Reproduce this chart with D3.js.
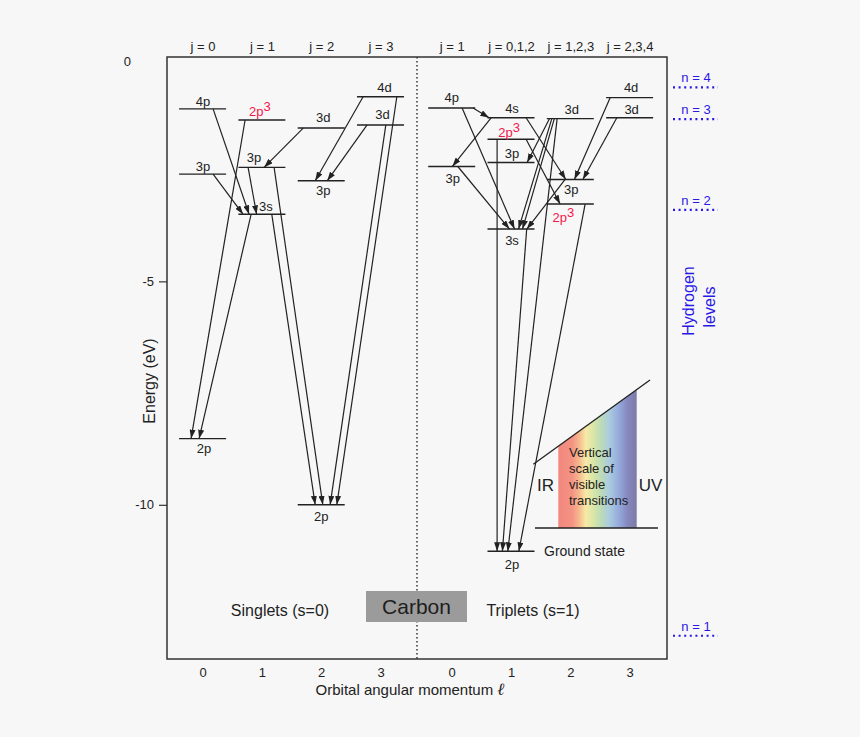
<!DOCTYPE html>
<html>
<head>
<meta charset="utf-8">
<script src="https://cdn.jsdelivr.net/npm/d3@7"></script>
<style>
  html, body { margin: 0; padding: 0; background: #f7f7f7; }
  svg { display: block; font-family: "Liberation Sans", Arial, Helvetica, sans-serif; }
</style>
</head>
<body>
<svg id="chart" width="860" height="737"></svg>
<script>
// ---------------- DATA ----------------
const columnPos   = [0, 1, 2, 3, 4.2, 5.2, 6.2, 7.2];
const headerLabels = ["j = 0", "j = 1", "j = 2", "j = 3", "j = 1", "j = 0,1,2", "j = 1,2,3", "j = 2,3,4"];
const tickLabels  = ["0", "1", "2", "3", "0", "1", "2", "3"];
const energyTicks = [0, -5, -10];

// singlet levels (column = L)
const singletIds   = ["s4p0", "s3p0", "s2p0", "s2p31", "s3p1", "s3s1", "s3d2", "s3p2", "s2p2", "s4d3", "s3d3"];
const singletTerms = ["4p", "3p", "2p", "2p", "3p", "3s", "3d", "3p", "2p", "4d", "3d"];
const singletSup   = ["", "", "", "3", "", "", "", "", "", "", ""];
const singletL     = [0, 0, 0, 1, 1, 1, 2, 2, 2, 3, 3];
const singletE     = [-1.14, -2.60, -8.52, -1.39, -2.45, -3.50, -1.57, -2.75, -10.0, -0.87, -1.50];

// triplet levels (column = L + 4)
const tripletIds   = ["t4p0", "t3p0", "t4s1", "t2p31", "t3p1", "t3s1", "t2p1", "t3d2", "t3p2", "t2p32", "t4d3", "t3d3"];
const tripletTerms = ["4p", "3p", "4s", "2p", "3p", "3s", "2p", "3d", "3p", "2p", "4d", "3d"];
const tripletSup   = ["", "", "", "3", "", "", "", "", "", "3", "", ""];
const tripletL     = [0, 0, 1, 1, 1, 1, 1, 2, 2, 2, 3, 3];
const tripletE     = [-1.12, -2.43, -1.34, -1.82, -2.34, -3.83, -11.04, -1.36, -2.72, -3.27, -0.89, -1.34];

// transitions: [upper level, lower level]
const transitions = [
  ["s4p0", "s3s1"], ["s3p0", "s3s1"], ["s3p1", "s3s1"], ["s3d2", "s3p1"],
  ["s4d3", "s3p2"], ["s3d3", "s3p2"], ["s2p31", "s2p0"], ["s3s1", "s2p0"],
  ["s3s1", "s2p2"], ["s3p1", "s2p2"], ["s3d3", "s2p2"], ["s4d3", "s2p2"],
  ["t4p0", "t4s1"], ["t4p0", "t3s1"], ["t3p0", "t3s1"], ["t3d2", "t3s1"],
  ["t3d2", "t3s1"], ["t3p2", "t3s1"], ["t4s1", "t3p0"], ["t4s1", "t3p2"],
  ["t2p31", "t2p32"], ["t3d2", "t3p1"], ["t4d3", "t3p2"], ["t3d3", "t3p2"],
  ["t2p31", "t2p1"], ["t3s1", "t2p1"], ["t3d2", "t2p1"], ["t2p32", "t2p1"]
];

// hydrogen reference levels
const hydrogenN = ["n = 4", "n = 3", "n = 2", "n = 1"];
const hydrogenE = [-0.66, -1.37, -3.40, -12.93];

// ---------------- LAYOUT (positions / styles) ----------------
const transitionOffsets = [
  [10.5, -12.8], [10.5, -18.8], [-13.8, -5.3], [-18, 2.2],
  [-17.4, -6], [-13.4, 6], [-16.8, -11.5], [-10.8, -3.5],
  [9.9, -6], [12.2, 1.6], [5.3, 8.9], [16.3, 15.6],
  [21.4, -21.9], [10.4, 3.5], [6.1, -1.5], [-18.5, 7.5],
  [-16, 11.5], [-5.2, 15.8], [-19.9, 0.7], [15.1, -4.5],
  [15.1, -10.2], [-20.9, 16.1], [-19.5, 4.1], [-12.8, 12.5],
  [-13.9, -13.9], [15.7, -8.6], [-13.2, -3.2], [14.8, 7.8]
];
const labelPlace = {
  s4p0: [0.5, -3], s3p0: [0.5, -3], s2p0: [1.5, 14.5], s2p31: [-2, -4.5], s3p1: [-8, -5],
  s3s1: [4, -3], s3d2: [2, -6.5], s3p2: [2, 14.5], s2p2: [0, 16.5], s4d3: [4, -5], s3d3: [2, -5.5],
  t4p0: [0, -5.5], t3p0: [1, 17], t4s1: [1, -4.5], t2p31: [-2, -2.3], t3p1: [1, -4], t3s1: [1, 15.5],
  t2p1: [1, 18], t3d2: [1.5, -4.5], t3p2: [1, 15], t2p32: [-7, 18], t4d3: [1.5, -5.5], t3d3: [2, -3.5]
};

const W = 860, H = 737;
const plot = { left: 167, right: 667, top: 57, bottom: 659 };
const INK = "#222", RED = "#f2164a", BLUE = "#2a18e6";

const x = d3.scaleLinear().domain([-0.6, 7.83]).range([plot.left, plot.right]);
const y = d3.scaleLinear().domain([0.02, -13.45]).range([plot.top, plot.bottom]);

const svg = d3.select("#chart");
svg.append("rect").attr("width", W).attr("height", H).attr("fill", "#f7f7f7");

const defs = svg.append("defs");
defs.append("marker").attr("id", "arrow")
  .attr("viewBox", "0 -3 9 6").attr("refX", 9).attr("refY", 0)
  .attr("markerWidth", 9).attr("markerHeight", 6)
  .attr("markerUnits", "userSpaceOnUse").attr("orient", "auto")
  .append("path").attr("d", "M0,-3L9,0L0,3Z").attr("fill", INK);

const grad = defs.append("linearGradient").attr("id", "spec").attr("x1", "0").attr("x2", "1").attr("y1", "0").attr("y2", "0");
[[0, "#f2877e"], [0.18, "#f49484"], [0.27, "#f6bb8e"], [0.35, "#f7e9a6"], [0.45, "#d8e6a8"],
 [0.55, "#bcdab8"], [0.65, "#abcbe0"], [0.78, "#94a8da"], [0.88, "#8689bf"], [1, "#7d7aa6"]]
  .forEach(([o, c]) => grad.append("stop").attr("offset", o).attr("stop-color", c));

const levels = [];
singletIds.forEach((id, i) => levels.push({ id, term: singletTerms[i], sup: singletSup[i], col: singletL[i], E: singletE[i] }));
tripletIds.forEach((id, i) => levels.push({ id, term: tripletTerms[i], sup: tripletSup[i], col: tripletL[i] + 4, E: tripletE[i] }));
const byId = Object.fromEntries(levels.map(d => [d.id, d]));
const cx = d => x(columnPos[d.col]);
const HALF = 23.5;

// frame
svg.append("rect").attr("x", plot.left).attr("y", plot.top)
  .attr("width", plot.right - plot.left).attr("height", plot.bottom - plot.top)
  .attr("fill", "none").attr("stroke", "#333").attr("stroke-width", 1.5);

// separator
svg.append("line").attr("x1", x(3.615)).attr("x2", x(3.615))
  .attr("y1", plot.top).attr("y2", plot.bottom)
  .attr("stroke", "#333").attr("stroke-width", 1.5).attr("stroke-dasharray", "1.5,2.5");

// y axis
const yAxis = svg.append("g").attr("transform", `translate(${plot.left},0)`)
  .call(d3.axisLeft(y).tickValues(energyTicks).tickSize(8).tickPadding(5).tickFormat(d => String(d)));
yAxis.select(".domain").remove();
yAxis.selectAll("line").attr("stroke", "#333").attr("stroke-width", 1.2);
yAxis.selectAll("text").attr("font-size", 13).attr("fill", INK).attr("font-family", "Liberation Sans, Arial, sans-serif");
const zeroTick = yAxis.selectAll(".tick").filter(d => d === 0);
zeroTick.select("line").remove();
zeroTick.select("text").attr("x", -36).attr("dy", "0.55em");

svg.append("text").attr("transform", `translate(155,381) rotate(-90)`)
  .attr("text-anchor", "middle").attr("font-size", 16).attr("fill", INK).text("Energy (eV)");

// x axis
const xAxis = svg.append("g").attr("transform", `translate(0,${plot.bottom})`)
  .call(d3.axisBottom(x).tickValues(columnPos).tickSize(0).tickPadding(9).tickFormat((d, i) => tickLabels[i]));
xAxis.select(".domain").remove();
xAxis.selectAll("text").attr("font-size", 13).attr("fill", INK).attr("font-family", "Liberation Sans, Arial, sans-serif");

svg.append("text").attr("x", 410).attr("y", 695).attr("text-anchor", "middle")
  .attr("font-size", 15).attr("fill", INK)
  .text("Orbital angular momentum ")
  .append("tspan").attr("font-family", "DejaVu Serif, serif").attr("font-style", "italic").attr("font-size", 17).text("ℓ");

// header j labels
const topAxis = svg.append("g").attr("transform", `translate(0,${plot.top})`)
  .call(d3.axisTop(x).tickValues(columnPos).tickSize(0).tickPadding(6).tickFormat((d, i) => headerLabels[i]));
topAxis.select(".domain").remove();
topAxis.selectAll("text").attr("font-size", 13).attr("fill", INK).attr("font-family", "Liberation Sans, Arial, sans-serif");

// level lines
svg.append("g").selectAll("line").data(levels).join("line")
  .attr("x1", d => cx(d) - HALF).attr("x2", d => cx(d) + HALF)
  .attr("y1", d => y(d.E)).attr("y2", d => y(d.E))
  .attr("stroke", INK).attr("stroke-width", 1.4);

// transitions
svg.append("g").selectAll("line").data(transitions).join("line")
  .attr("x1", (d, i) => cx(byId[d[0]]) + transitionOffsets[i][0])
  .attr("y1", d => y(byId[d[0]].E))
  .attr("x2", (d, i) => cx(byId[d[1]]) + transitionOffsets[i][1])
  .attr("y2", d => y(byId[d[1]].E))
  .attr("stroke", INK).attr("stroke-width", 1.2).attr("marker-end", "url(#arrow)");

// level labels
const lab = svg.append("g").selectAll("text").data(levels).join("text")
  .attr("x", d => cx(d) + labelPlace[d.id][0])
  .attr("y", d => y(d.E) + labelPlace[d.id][1])
  .attr("text-anchor", "middle").attr("font-size", 13)
  .attr("fill", d => d.sup ? RED : INK);
lab.append("tspan").text(d => d.term);
lab.filter(d => d.sup).append("tspan").attr("dy", -5).attr("font-size", 13).text(d => d.sup);

svg.append("text").attr("x", 544).attr("y", y(byId.t2p1.E) + 5).attr("font-size", 14).attr("fill", INK).text("Ground state");

// Carbon box + group labels
svg.append("rect").attr("x", 366).attr("y", 591).attr("width", 101).attr("height", 31).attr("fill", "#9b9b9b");
svg.append("text").attr("x", 416.5).attr("y", 613.5).attr("text-anchor", "middle").attr("font-size", 21).attr("fill", "#1e1e1e").text("Carbon");
svg.append("text").attr("x", 280).attr("y", 616).attr("text-anchor", "middle").attr("font-size", 16).attr("fill", INK).text("Singlets (s=0)");
svg.append("text").attr("x", 533).attr("y", 616).attr("text-anchor", "middle").attr("font-size", 16).attr("fill", INK).text("Triplets (s=1)");

// spectrum inset
const slope = (380 - 464.3) / (650 - 533.3);
const ys = xx => 464.3 + slope * (xx - 533.3);
svg.append("polygon")
  .attr("points", [[558.3, 528], [558.3, ys(558.3)], [636.7, ys(636.7)], [636.7, 528]].map(p => p.join(",")).join(" "))
  .attr("fill", "url(#spec)");
svg.append("line").attr("x1", 533.3).attr("y1", 464.3).attr("x2", 650).attr("y2", 380).attr("stroke", INK).attr("stroke-width", 1.3);
svg.append("line").attr("x1", 535).attr("y1", 528).attr("x2", 658).attr("y2", 528).attr("stroke", INK).attr("stroke-width", 1.3);
svg.append("text").attr("x", 545.5).attr("y", 491).attr("text-anchor", "middle").attr("font-size", 17).attr("fill", INK).text("IR");
svg.append("text").attr("x", 650.5).attr("y", 491).attr("text-anchor", "middle").attr("font-size", 17).attr("fill", INK).text("UV");
const vt = svg.append("text").attr("font-size", 13).attr("fill", INK);
["Vertical", "scale of", "visible", "transitions"].forEach((t, i) =>
  vt.append("tspan").attr("x", 569).attr("y", 457 + i * 16).text(t));

// hydrogen levels
const hg = svg.append("g");
hydrogenE.forEach((e, i) => {
  hg.append("line").attr("x1", 673).attr("x2", 718).attr("y1", y(e)).attr("y2", y(e))
    .attr("stroke", BLUE).attr("stroke-width", 2.2).attr("stroke-dasharray", "2,3.6");
  hg.append("text").attr("x", 696).attr("y", y(e) - 5).attr("text-anchor", "middle")
    .attr("font-size", 13).attr("fill", BLUE).text(hydrogenN[i]);
});
svg.append("text").attr("transform", "translate(694,301) rotate(-90)").attr("text-anchor", "middle")
  .attr("font-size", 16).attr("fill", BLUE).text("Hydrogen");
svg.append("text").attr("transform", "translate(715,307) rotate(-90)").attr("text-anchor", "middle")
  .attr("font-size", 16).attr("fill", BLUE).text("levels");
</script>
</body>
</html>
